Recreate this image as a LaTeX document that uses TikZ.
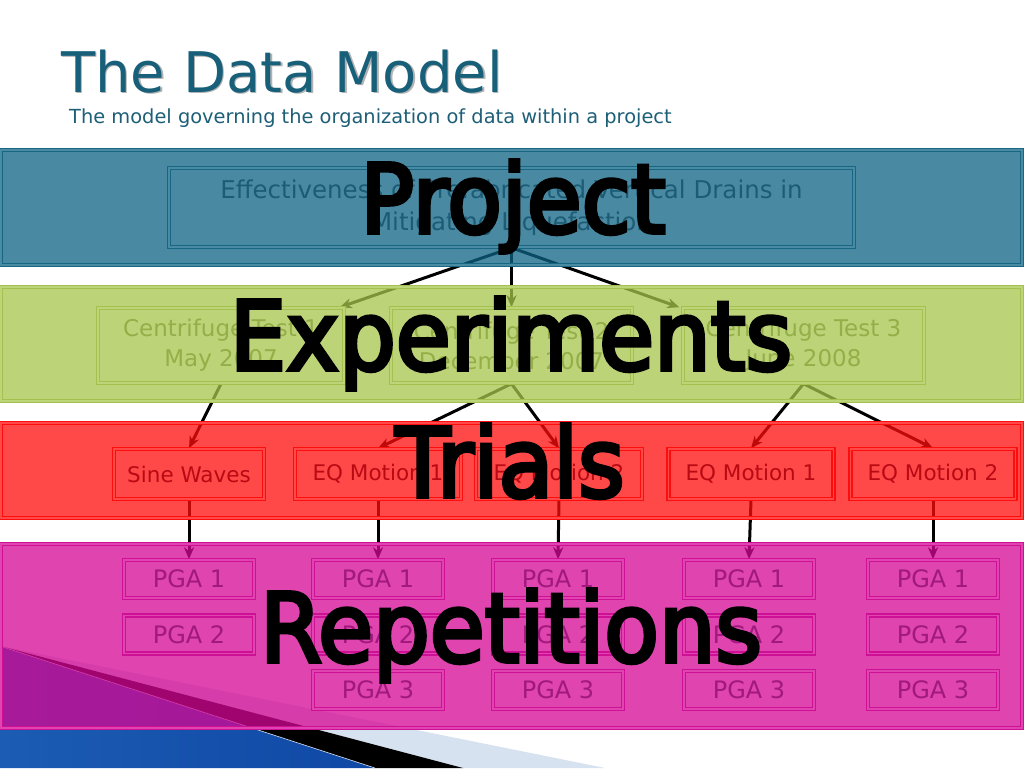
\documentclass[tikz,border=0pt]{standalone}
\usepackage{fontspec}
\setmainfont{DejaVu Sans}
\newfontfamily\bigfont[FakeStretch=0.93,FakeBold=4]{DejaVu Sans}
\usetikzlibrary{arrows.meta,calc}
\pgfdeclarelayer{bg}
\pgfdeclarelayer{mid}
\pgfsetlayers{bg,mid,main}
\definecolor{titlecol}{RGB}{24,96,122}
\definecolor{subcol}{RGB}{30,95,120}
% blue band
\definecolor{bluebase}{RGB}{13,100,132}
\definecolor{blueapp}{RGB}{74,139,163}
\definecolor{blueline}{RGB}{22,102,132}
\definecolor{bluetext}{RGB}{30,92,118}
% green band
\definecolor{greenbase}{RGB}{168,197,75}
\definecolor{greenapp}{RGB}{190,212,120}
\definecolor{greenline}{RGB}{164,193,80}
\definecolor{greentext}{RGB}{148,174,72}
% red band
\definecolor{redbase}{RGB}{255,11,11}
\definecolor{redapp}{RGB}{255,72,72}
\definecolor{redline}{RGB}{252,14,14}
\definecolor{redtext}{RGB}{185,10,20}
% magenta band
\definecolor{magbase}{RGB}{214,6,147}
\definecolor{magapp}{RGB}{224,68,174}
\definecolor{magline}{RGB}{206,16,150}
\definecolor{magtext}{RGB}{160,25,125}
% decoration
\definecolor{decoblueA}{RGB}{28,92,180}
\definecolor{decoblueB}{RGB}{78,142,226}
\definecolor{decoblueC}{RGB}{15,72,165}
\definecolor{decolight}{RGB}{214,226,240}
\tikzset{
  bx/.style={rectangle, draw, line width=1.5pt, double distance=1.2pt, inner sep=0pt, align=center},
  pbox/.style={bx, draw=blueline, double=blueapp, text=bluetext, minimum width=685pt, minimum height=79pt, font=\fontsize{24.5}{32}\selectfont},
  gbox/.style={bx, draw=greenline, double=greenapp, text=greentext, minimum height=75pt, font=\fontsize{23}{30}\selectfont},
  tbox/.style={bx, draw=redline, double=redapp, text=redtext, minimum height=50pt, font=\fontsize{21.5}{21.5}\selectfont},
  rbox/.style={bx, draw=magline, double=magapp, text=magtext, minimum width=130pt, minimum height=38pt, font=\fontsize{24}{24}\selectfont},
  bandline/.style={line width=1.3pt, double distance=1.2pt},
  arr/.style={line width=3pt, draw=black, -{Stealth[length=12pt,width=10pt]}},
  bigw/.style={inner sep=0pt, anchor=base, text=black, font=\bigfont\fontsize{96}{96}\selectfont}
}
\begin{document}
\begin{tikzpicture}[x=1pt,y=-1pt]
\useasboundingbox (0,0) rectangle (1024,768);

% boxes (top layer)
\node[pbox] (proj) at (511.5,207.5) {Effectiveness of Prefabricated Vertical Drains in\\Mitigating Liquefaction};

\node[gbox, minimum width=246pt] (g1) at (221,345.5) {Centrifuge Test 1\\May 2007};
\node[gbox, minimum width=241pt] (g2) at (511.5,345.5) {Centrifuge Test 2\\December 2007};
\node[gbox, minimum width=241pt] (g3) at (803.5,345.5) {Centrifuge Test 3\\June 2008};

\node[tbox, minimum width=150pt] (t1) at (189,474) {Sine Waves};
\node[tbox, minimum width=166pt] (t2) at (378,474) {EQ Motion 1};
\node[tbox, minimum width=166pt] (t3) at (559,474) {EQ Motion 2};
\node[tbox, minimum width=165pt] (t4) at (751,474) {EQ Motion 1};
\node[tbox, minimum width=165pt] (t5) at (933,474) {EQ Motion 2};

\node[rbox] (r11) at (189,579) {PGA 1};
\node[rbox] (r12) at (189,634.5) {PGA 2};
\node[rbox] (r21) at (378,579) {PGA 1};
\node[rbox] (r22) at (378,634.5) {PGA 2};
\node[rbox] (r23) at (378,690) {PGA 3};
\node[rbox] (r31) at (558,579) {PGA 1};
\node[rbox] (r32) at (558,634.5) {PGA 2};
\node[rbox] (r33) at (558,690) {PGA 3};
\node[rbox] (r41) at (749,579) {PGA 1};
\node[rbox] (r42) at (749,634.5) {PGA 2};
\node[rbox] (r43) at (749,690) {PGA 3};
\node[rbox] (r51) at (933,579) {PGA 1};
\node[rbox] (r52) at (933,634.5) {PGA 2};
\node[rbox] (r53) at (933,690) {PGA 3};

\begin{pgfonlayer}{bg}
\fill[white] (0,0) rectangle (1024,768);
% decoration bottom left
\fill[decolight] (0,646) -- (605,768) -- (463,768) -- cycle;
\fill[black] (0,646) -- (463,768) -- (375,768) -- cycle;
\shade[left color=decoblueA, middle color=decoblueB, right color=decoblueC] (0,646) -- (375,768) -- (0,768) -- cycle;
\draw[white, line width=0.7pt, opacity=0.7] (0,646) -- (375,768);
% connectors
\draw[arr] (proj.south) -- ([xshift=-5pt]g1.north east);
\draw[arr] (proj.south) -- (g2.north);
\draw[arr] (proj.south) -- ([xshift=-3pt]g3.north west);
\draw[arr] (g1.south) -- (t1.north);
\draw[arr] (g2.south) -- (t2.north);
\draw[arr] (g2.south) -- (t3.north);
\draw[arr] (g3.south) -- (t4.north);
\draw[arr] (g3.south) -- (t5.north);
\draw[arr] (t1.south) -- (r11.north);
\draw[arr] (t2.south) -- (r21.north);
\draw[arr] (t3.south) -- (r31.north);
\draw[arr] (t4.south) -- (r41.north);
\draw[arr] (t5.south) -- (r51.north);
\end{pgfonlayer}

\begin{pgfonlayer}{mid}
\fill[bluebase, opacity=0.75] (1,150) rectangle (1022,265);
\fill[greenbase, opacity=0.75] (1,287) rectangle (1022,401);
\fill[redbase, opacity=0.75] (1,423) rectangle (1022,518);
\fill[magbase, opacity=0.75] (1,544) rectangle (1022,728);
\draw[bandline, draw=blueline, double=blueapp] (1,150) rectangle (1022,265);
\draw[bandline, draw=greenline, double=greenapp] (1,287) rectangle (1022,401);
\draw[bandline, draw=redline, double=redapp] (1,423) rectangle (1022,518);
\draw[bandline, draw=magline, double=magapp] (1,544) rectangle (1022,728);
\end{pgfonlayer}

% big level words
\node[bigw] (wproj) at (513,233) {Project};
\node[bigw] (wexp) at (511,370) {Experiments};
\node[bigw] (wtri) at (510,497) {Trials};
\node[bigw] (wrep) at (511,662) {Repetitions};

% title
\node[anchor=base west, inner sep=0pt, text=black, opacity=0.3, font=\fontsize{56}{56}\selectfont] (titlesh) at (62.5,93.5) {The Data Model};
\node[anchor=base west, inner sep=0pt, text=titlecol, font=\fontsize{56}{56}\selectfont] (title) at (61,92) {The Data Model};
\node[anchor=base west, inner sep=0pt, text=subcol, font=\fontsize{19.4}{19.4}\selectfont] (subtitle) at (69,123) {The model governing the organization of data within a project};
\end{tikzpicture}
\end{document}
